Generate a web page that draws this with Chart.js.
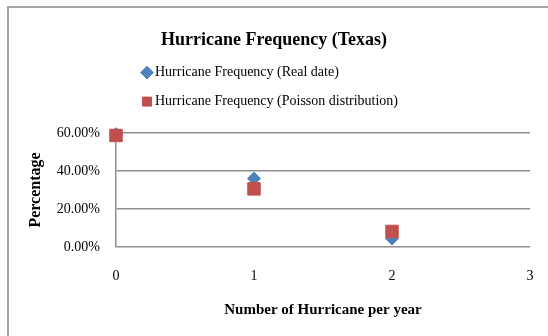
<!DOCTYPE html>
<html>
<head>
<meta charset="utf-8">
<script src="https://cdn.jsdelivr.net/npm/chart.js@4.4.1/dist/chart.umd.min.js"></script>
<style>
  html, body { margin: 0; padding: 0; background: #fff; overflow: hidden; }
  #wrap { position: relative; width: 548px; height: 336px; }
  #frame { position: absolute; left: 7px; top: 6px; width: 600px; height: 400px;
           border: 2px solid #a4a4a4; box-sizing: border-box; }
  #c { position: absolute; left: 0; top: 0; }
</style>
</head>
<body>
<div id="wrap">
  <div id="frame"></div>
  <canvas id="c" width="548" height="336"></canvas>
</div>
<script>
// Hurricanes per year (x) and share of years, in percent (y)
const hurricanesPerYear = [0, 1, 2];
const realPct = [59.4, 36.0, 4.5];
const poissonPct = [58.7, 30.6, 8.2];
const seriesNames = ['Hurricane Frequency (Real date)', 'Hurricane Frequency (Poisson distribution)'];
const yTicks = [0, 20, 40, 60];
const xTicks = [0, 1, 2, 3];

const FONT = "'Liberation Serif', 'Times New Roman', serif";
const points = (ys) => hurricanesPerYear.map((x, i) => ({ x: x, y: ys[i] }));

// Legend sits as an indented, left-aligned column under the title
const legendIndent = {
  id: 'legendIndent',
  afterLayout(chart) {
    const lg = chart.legend;
    if (lg) { lg.left = 131; }
  }
};

// Empty strip between the legend and the plot area
const legendGap = {
  id: 'legendGap',
  beforeInit(chart) {
    Chart.layouts.addBox(chart, {
      position: 'top',
      weight: 0,
      fullSize: false,
      options: {},
      left: 0, top: 0, right: 0, bottom: 0, width: 0, height: 0,
      isHorizontal() { return true; },
      update(maxWidth) { this.width = maxWidth; this.height = 14.4; },
      draw() {}
    });
  }
};

new Chart(document.getElementById('c'), {
  type: 'scatter',
  data: {
    datasets: [
      {
        label: seriesNames[0],
        data: points(realPct),
        pointStyle: 'rectRot',
        pointRadius: 6.5,
        pointHoverRadius: 6.5,
        backgroundColor: '#4F81BD',
        borderColor: '#4F81BD',
        borderWidth: 1,
        order: 1,
        clip: false
      },
      {
        label: seriesNames[1],
        data: points(poissonPct),
        pointStyle: 'rect',
        pointRadius: 8.8,
        pointHoverRadius: 8.8,
        backgroundColor: '#C0504D',
        borderColor: '#C0504D',
        borderWidth: 1,
        order: 0,
        clip: false
      }
    ]
  },
  options: {
    responsive: false,
    animation: false,
    events: [],
    layout: { padding: 0 },
    plugins: {
      tooltip: { enabled: false },
      title: {
        display: true,
        text: 'Hurricane Frequency (Texas)',
        color: '#000',
        font: { family: FONT, size: 18, weight: 'bold' },
        padding: { top: 30, bottom: -1 }
      },
      legend: {
        display: true,
        position: 'top',
        align: 'start',
        fullSize: false,
        labels: {
          usePointStyle: true,
          boxWidth: 2,
          boxHeight: 9,
          padding: 15,
          color: '#000',
          font: { family: FONT, size: 14 },
          sort: (a, b) => a.datasetIndex - b.datasetIndex
        }
      }
    },
    scales: {
      x: {
        type: 'linear',
        min: 0,
        max: 3,
        afterBuildTicks: (s) => { s.ticks = xTicks.map(v => ({ value: v })); },
        afterFit: (s) => { s.height = 89; s.paddingLeft = 0; s.paddingRight = 18; },
        grid: { display: false, drawTicks: false },
        border: { display: false },
        ticks: {
          padding: 21,
          color: '#000',
          font: { family: FONT, size: 14 },
          callback: (v) => String(v)
        },
        title: {
          display: true,
          text: 'Number of Hurricane per year',
          color: '#000',
          font: { family: FONT, size: 15, weight: 'bold' },
          padding: { top: 0, bottom: 17 }
        }
      },
      y: {
        type: 'linear',
        min: 0,
        max: 60,
        afterBuildTicks: (s) => { s.ticks = yTicks.map(v => ({ value: v })); },
        afterFit: (s) => { s.width = 116; },
        grid: { color: '#8f8f8f', lineWidth: 1.5, drawTicks: false },
        border: { display: true, color: '#8f8f8f', width: 1.5 },
        ticks: {
          padding: 16,
          color: '#000',
          font: { family: FONT, size: 14 },
          callback: (v) => v.toFixed(2) + '%'
        },
        title: {
          display: true,
          text: 'Percentage',
          color: '#000',
          font: { family: FONT, size: 16, weight: 'bold' },
          padding: { top: 26, bottom: 0 }
        }
      }
    }
  },
  plugins: [legendIndent, legendGap]
});
</script>
</body>
</html>
